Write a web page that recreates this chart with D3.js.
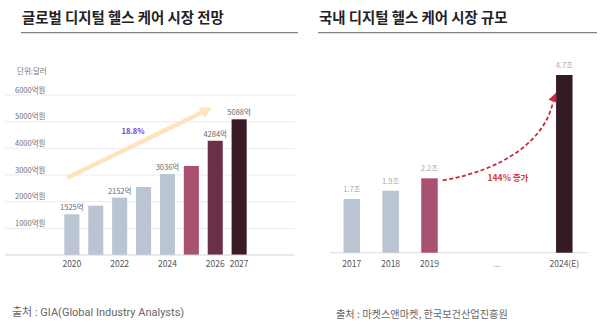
<!DOCTYPE html>
<html>
<head>
<meta charset="utf-8">
<script src="https://cdn.jsdelivr.net/npm/d3@7"></script>
<style>
  body { margin: 0; background: #fff; }
  svg { display: block; font-family: "Noto Sans CJK KR", "Noto Sans", sans-serif; }
</style>
</head>
<body>
<svg id="chart" width="602" height="328"></svg>
<script>
// global market (억 달러)
const globalYears = ['2020', '2021', '2022', '2023', '2024', '2025', '2026', '2027'];
const globalValues = [1525, 1850, 2152, 2550, 3036, 3340, 4284, 5088];
const globalLabels = ['1525억', '', '2152억', '', '3036억', '', '4284억', '5088억'];
const globalTickLabels = ['2020', '', '2022', '', '2024', '', '2026', '2027'];
const globalYTicks = [1000, 2000, 3000, 4000, 5000, 6000];
const globalColors = ['#bac4d3', '#bac4d3', '#bac4d3', '#bac4d3', '#bac4d3', '#a85173', '#6b2f47', '#3a1a27'];

// domestic market (조 원)
const domYears = ['2017', '2018', '2019', '2024(E)'];
const domValues = [1.7, 1.9, 2.2, 4.7];
const domLabels = ['1.7조', '1.9조', '2.2조', '4.7조'];
const domColors = ['#bac4d3', '#bac4d3', '#a85173', '#341a24'];
const domAxisFirst = ['2017', '2018', '2019'];
const domAxisSecond = ['2019', '...', '2024(E)'];

const svg = d3.select('#chart');

// ---------- titles ----------
function title(x, x2, text) {
    svg.append('text')
        .attr('x', x).attr('y', 23)
        .attr('font-size', 14.4).attr('font-weight', 700).attr('fill', '#222')
        .text(text);
    svg.append('line')
        .attr('x1', x - 1).attr('x2', x2).attr('y1', 32.7).attr('y2', 32.7)
        .attr('stroke', '#808080').attr('stroke-width', 1.3);
}
title(22, 298, '글로벌 디지털 헬스 케어 시장 전망');
title(319, 597, '국내 디지털 헬스 케어 시장 규모');

// ---------- left chart ----------
const gx = d3.scaleBand().domain(globalYears).range([55.5, 255.5]).paddingInner(0.37).paddingOuter(0.37);
const gy = d3.scaleLinear().domain([0, 6000]).range([255, 95]);

const left = svg.append('g');

left.append('text')
    .attr('x', 17).attr('y', 74)
    .attr('font-size', 7.5).attr('fill', '#777')
    .text('단위:달러');

left.selectAll('.grid')
    .data(globalYTicks)
    .join('line')
    .attr('x1', 5).attr('x2', 295)
    .attr('y1', d => gy(d)).attr('y2', d => gy(d))
    .attr('stroke', '#ececec').attr('stroke-width', 1);

left.selectAll('.ylab')
    .data(globalYTicks)
    .join('text')
    .attr('x', 15).attr('y', d => gy(d) - 2.5)
    .attr('font-size', 7.5).attr('fill', '#707070')
    .text(d => d + '억원');

// growth arrow (behind bars)
const arrowStart = [gx('2020') + 3, gy(2900)];
const arrowEnd = [gx('2026') + 4, gy(5520)];
const ang = Math.atan2(arrowEnd[1] - arrowStart[1], arrowEnd[0] - arrowStart[0]);
const headLen = 11, headW = 6;
const baseX = arrowEnd[0] - headLen * Math.cos(ang), baseY = arrowEnd[1] - headLen * Math.sin(ang);
left.append('line')
    .attr('x1', arrowStart[0]).attr('y1', arrowStart[1])
    .attr('x2', baseX).attr('y2', baseY)
    .attr('stroke', '#fde4bc').attr('stroke-width', 4.5);
left.append('path')
    .attr('d', d3.line()([
        arrowEnd,
        [baseX + headW * Math.sin(ang), baseY - headW * Math.cos(ang)],
        [baseX - headW * Math.sin(ang), baseY + headW * Math.cos(ang)]
    ]) + 'Z')
    .attr('fill', '#fde4bc');

left.append('text')
    .attr('x', gx('2023') - 3).attr('y', 134)
    .attr('text-anchor', 'middle')
    .attr('font-size', 7.5).attr('font-weight', 700).attr('fill', '#7a43e0')
    .text('18.8%');

left.selectAll('.bar')
    .data(globalValues)
    .join('rect')
    .attr('x', (d, i) => gx(globalYears[i]))
    .attr('width', gx.bandwidth())
    .attr('y', d => gy(d))
    .attr('height', d => gy(0) - gy(d))
    .attr('fill', (d, i) => globalColors[i]);

left.selectAll('.vlab')
    .data(globalValues)
    .join('text')
    .attr('x', (d, i) => gx(globalYears[i]) + gx.bandwidth() / 2)
    .attr('y', d => gy(d) - 4)
    .attr('text-anchor', 'middle')
    .attr('font-size', 7.5).attr('fill', '#666')
    .text((d, i) => globalLabels[i]);

left.append('line')
    .attr('x1', 5).attr('x2', 295).attr('y1', gy(0)).attr('y2', gy(0))
    .attr('stroke', '#d4d4d4').attr('stroke-width', 1.2);

left.selectAll('.xlab')
    .data(globalYears)
    .join('text')
    .attr('x', d => gx(d) + gx.bandwidth() / 2)
    .attr('y', 266.5)
    .attr('text-anchor', 'middle')
    .attr('font-size', 8.5).attr('fill', '#555')
    .text((d, i) => globalTickLabels[i]);

svg.append('text')
    .attr('x', 12).attr('y', 315.5)
    .attr('font-family', 'Roboto, "Noto Sans CJK KR", sans-serif')
    .attr('font-size', 11).attr('fill', '#666')
    .text('출처 : GIA(Global Industry Analysts)');

// ---------- right chart ----------
const dx1 = d3.scalePoint().domain(domAxisFirst).range([351.8, 429.5]);
const dx2 = d3.scalePoint().domain(domAxisSecond).range([429.5, 564.3]);
const dxc = d => dx1.domain().includes(d) ? dx1(d) : dx2(d);
const dy = d3.scaleLinear().domain([0.4, 4.7]).range([252.7, 75]);
const barW = 16.5;

const right = svg.append('g');

right.append('line')
    .attr('x1', 330).attr('x2', 588).attr('y1', dy(0.4)).attr('y2', dy(0.4))
    .attr('stroke', '#e2e2e2').attr('stroke-width', 1.2);

right.selectAll('.bar')
    .data(domValues)
    .join('rect')
    .attr('x', (d, i) => dxc(domYears[i]) - barW / 2)
    .attr('width', barW)
    .attr('y', d => dy(d))
    .attr('height', d => dy(0.4) - dy(d))
    .attr('fill', (d, i) => domColors[i]);

right.selectAll('.vlab')
    .data(domValues)
    .join('text')
    .attr('x', (d, i) => dxc(domYears[i]))
    .attr('y', d => dy(d) - 7)
    .attr('text-anchor', 'middle')
    .attr('font-size', 7.5).attr('fill', '#aaa')
    .text((d, i) => domLabels[i]);

right.selectAll('.xlab')
    .data(domAxisFirst.concat(domAxisSecond.slice(1)))
    .join('text')
    .attr('x', d => dxc(d))
    .attr('y', 266.5)
    .attr('text-anchor', 'middle')
    .attr('font-size', 8.5).attr('fill', d => d === '...' ? '#999' : '#555')
    .text(d => d);

// dashed growth curve
const p0 = [dxc('2019') + barW / 2 + 5, dy(2.2) + 2];
const p1 = [dxc('2024(E)') - barW / 2 - 1, dy(4.2)];
const curve = d3.path();
curve.moveTo(p0[0], p0[1]);
curve.bezierCurveTo(p0[0] + 60, p0[1] - 10, p1[0] - 10, p1[1] + 45, p1[0] - 2, p1[1] + 6);
right.append('path')
    .attr('d', curve.toString())
    .attr('fill', 'none')
    .attr('stroke', '#c9283a').attr('stroke-width', 1.8)
    .attr('stroke-dasharray', '4,2.5');
right.append('path')
    .attr('d', d3.line()([
        [p1[0] + 1, p1[1] - 3],
        [p1[0] - 6.5, p1[1] + 4],
        [p1[0] + 1.5, p1[1] + 7]
    ]) + 'Z')
    .attr('fill', '#c9283a');

right.append('text')
    .attr('x', 508).attr('y', 180.5)
    .attr('text-anchor', 'middle')
    .attr('font-size', 8.5).attr('font-weight', 700).attr('fill', '#cf3a45')
    .text('144% 증가');

svg.append('text')
    .attr('x', 336).attr('y', 317.5)
    .attr('font-family', '"Noto Sans CJK KR", sans-serif')
    .attr('font-size', 10.2).attr('fill', '#666')
    .text('출처 : 마켓스앤마켓, 한국보건산업진흥원');
</script>
</body>
</html>
